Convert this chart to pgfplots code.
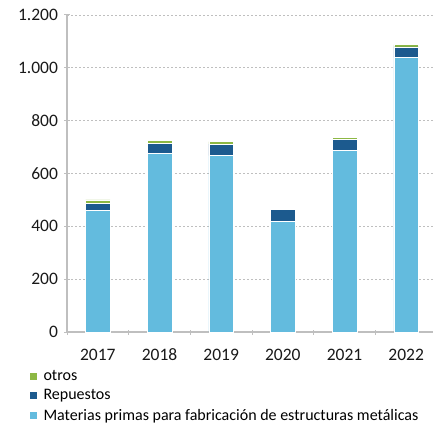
\documentclass[border=0pt]{standalone}
\usepackage{pgfplots}
\pgfplotsset{compat=1.18}
\usepackage{fontspec}
\setmainfont{Carlito}
\definecolor{mlight}{HTML}{63BBDE}
\definecolor{mdark}{HTML}{1C5A8E}
\definecolor{mgreen}{HTML}{8DB844}
\definecolor{axgray}{HTML}{BFBFBF}

\begin{document}
\begin{tikzpicture}
\begin{axis}[
  name=ax,
  scale only axis, width=366bp, height=317bp,
  ybar stacked, bar width=0.4,
  xmin=-0.5, xmax=5.435, ymin=0, ymax=1200,
  xtick={0,...,5}, xticklabels={2017,2018,2019,2020,2021,2022},
  major x tick style={draw=none},
  minor xtick={-0.5,0.5,...,4.5},
  ytick={0,200,...,1200},
  scaled y ticks=false,
  tick align=outside, major tick length=5bp, minor tick length=5bp,
  axis x line=bottom, axis y line=left,
  axis line style={axgray, line width=1.2bp, -},
  every tick/.style={axgray, line width=1bp},
  ymajorgrids, grid style={axgray, dash pattern=on 2bp off 2bp, line width=0.9bp},
  tick label style={font=\fontsize{17.5bp}{20bp}\selectfont, text=black!90},
  xticklabel style={yshift=-11bp},
  yticklabel style={xshift=-3bp},
  /pgf/number format/.cd, 1000 sep={.}, assume math mode=true,
  /pgfplots/.cd,
  legend style={at={(-0.104,-0.113)}, anchor=north west, draw=none, fill=none,
    font=\fontsize{16bp}{19bp}\selectfont, legend cell align=left,
    row sep=4bp, inner sep=0pt,
    /tikz/every odd column/.append style={column sep=4bp}},
  legend image code/.code={\fill[#1] (0bp,-4bp) rectangle (8bp,4bp);},
  reverse legend,
]
\addplot[fill=mlight, draw=white, line width=0.4bp] coordinates {
  (0,461) (1,676) (2,668) (3,418) (4,688) (5,1041)};
\addlegendentry{Materias primas para fabricación de estructuras metálicas}
\addplot[fill=mdark, draw=white, line width=0.4bp] coordinates {
  (0,25) (1,38) (2,43) (3,45) (4,42) (5,38)};
\addlegendentry{Repuestos}
\addplot[fill=mgreen, draw=white, line width=0.4bp] coordinates {
  (0,14) (1,11) (2,10) (3,5) (4,8) (5,9)};
\addlegendentry{otros}
\coordinate (bl) at (rel axis cs:0,0);
\coordinate (tr) at (rel axis cs:1,1);
\end{axis}
\pgfresetboundingbox
\path[use as bounding box] ([xshift=-67bp,yshift=-96bp]bl) rectangle ([yshift=15bp]tr);
\end{tikzpicture}
\end{document}
